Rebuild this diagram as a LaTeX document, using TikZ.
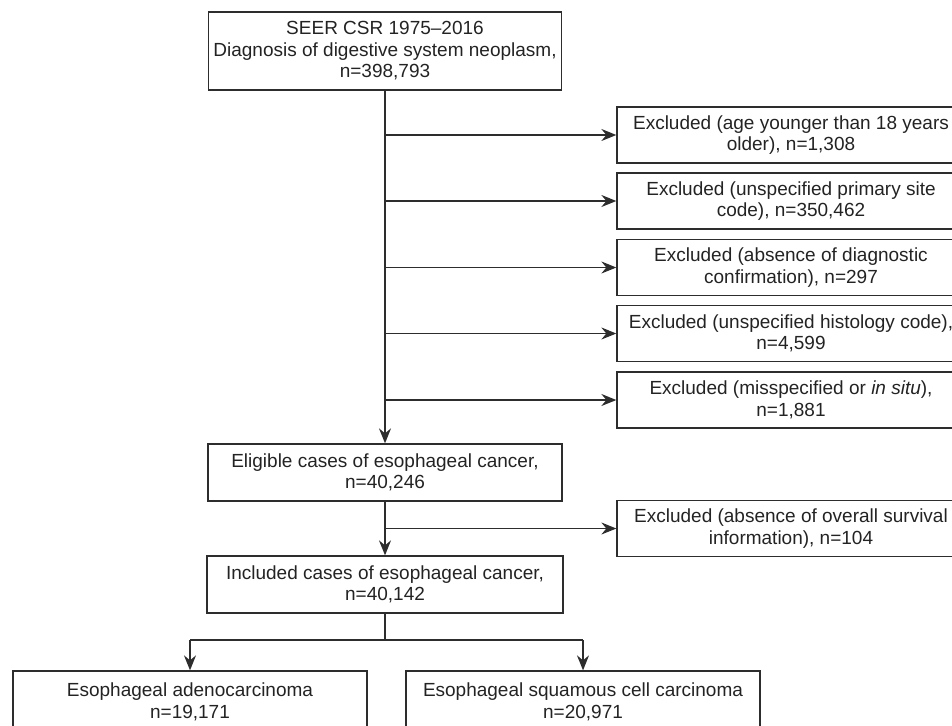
\documentclass[tikz,border=0pt]{standalone}
\usepackage{fontspec}
\setmainfont{Liberation Sans}
\usepackage{tikz}
\usetikzlibrary{arrows.meta,positioning}
\usepackage{xcolor}
\definecolor{linegray}{RGB}{45,45,45}
\definecolor{textgray}{RGB}{35,35,35}
\tikzset{
  caja/.style={draw=linegray, line width=1.3pt, align=center, inner sep=0pt,
    text=textgray, font=\fontsize{19}{21.5}\selectfont},
  cajamain/.style={caja, minimum width=354pt, minimum height=57pt},
  cajaex/.style={caja, minimum width=348pt, minimum height=56pt},
  flecha/.style={draw=linegray, line width=1.3pt, -{Stealth[length=15pt,width=12pt,inset=5pt]}},
  linea/.style={draw=linegray, line width=1.3pt}
}
\begin{document}
\begin{tikzpicture}[x=1pt,y=-1pt]
        \useasboundingbox (0,0) rectangle (952,725);
        % caja inicial
        \node[caja, minimum width=353pt, minimum height=78pt] (seer) at (385,51)
          {SEER CSR 1975--2016\\Diagnosis of digestive system neoplasm,\\n=398,793};
        % exclusiones
        \node[cajaex] (exA) at (791,135) {Excluded (age younger than 18 years\\older), n=1,308};
        \node[cajaex] (exB) at (791,201) {Excluded (unspecified primary site\\code), n=350,462};
        \node[cajaex] (exC) at (791,267.5) {Excluded (absence of diagnostic\\confirmation), n=297};
        \node[cajaex] (exD) at (791,333.5) {Excluded (unspecified histology code),\\n=4,599};
        \node[cajaex] (exE) at (791,400) {Excluded (misspecified or \textit{in situ}),\\n=1,881};
        % casos elegibles
        \node[cajamain] (elig) at (385,472.5) {Eligible cases of esophageal cancer,\\n=40,246};
        \node[cajaex] (exF) at (791,528.5) {Excluded (absence of overall survival\\information), n=104};
        % casos incluidos
        \node[cajamain, minimum width=356pt] (incl) at (385,584.5) {Included cases of esophageal cancer,\\n=40,142};
        % histologias
        \node[cajamain, minimum height=62pt] (adeno) at (190,702) {Esophageal adenocarcinoma\\n=19,171};
        \node[cajamain, minimum height=62pt] (escam) at (583,702) {Esophageal squamous cell carcinoma\\n=20,971};
        % linea principal
        \draw[flecha] (seer.south) -- (elig.north);
        \foreach \e in {exA,exB,exC,exD,exE}
        \draw[flecha] (seer.south |- \e.west) -- (\e.west);
        % de elegibles a incluidos
        \draw[flecha] (elig.south) -- (incl.north);
        \draw[flecha] (elig.south |- exF.west) -- (exF.west);
        % bifurcacion final
        \coordinate (rama) at (385,640);
        \draw[linea] (incl.south) -- (rama);
        \draw[linea] (adeno.north |- rama) -- (escam.north |- rama);
        \draw[flecha] (adeno.north |- rama) -- (adeno.north);
        \draw[flecha] (escam.north |- rama) -- (escam.north);
\end{tikzpicture}
\end{document}
